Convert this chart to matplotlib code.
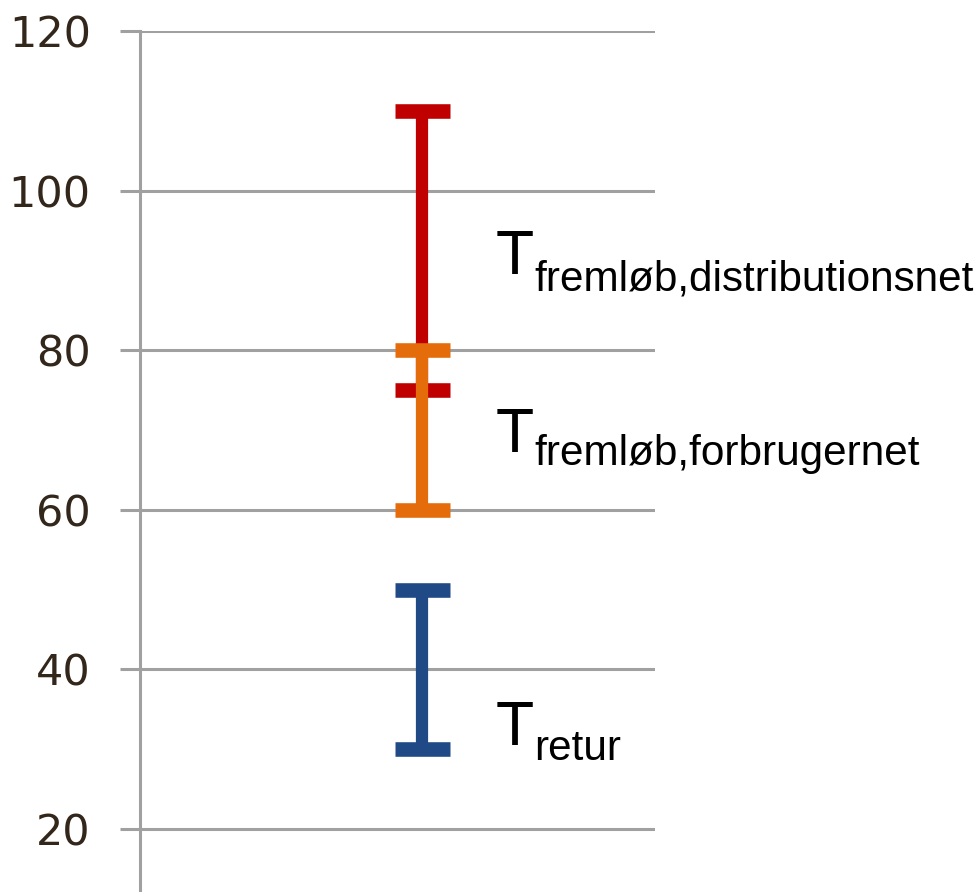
import numpy as np
import matplotlib as mpl
import matplotlib.pyplot as plt
mpl.use('Agg')

# temperature ranges (low, high) per series
names = ["distributionsnet", "forbrugernet", "retur"]
lows = [75, 60, 30]
highs = [110, 80, 50]
colors = ["#C00000", "#E46C0A", "#1F4A86"]

# label subscripts and where the labels sit (y, data units)
subs = ["fremløb,distributionsnet", "fremløb,forbrugernet", "retur"]
label_y = [89.6, 67.2, 30.5]
sub_y = [87.5, 65.6, 28.6]

yticks = [20, 40, 60, 80, 100, 120]

grid_col = "#a0a0a0"
fig = plt.figure(figsize=(9.76, 8.92), dpi=100)
ax = fig.add_axes([140/976, 0, 515/976, 1 - 31/892])

ax.set_xlim(-1, 0.826)
ax.set_ylim(12.1, 120)

for lo, hi, c in zip(lows, highs, colors):
    ax.errorbar([0], [lo], yerr=[[0], [hi - lo]], fmt='none', ecolor=c,
                elinewidth=8.8, capsize=19.8, capthick=10.5, zorder=3)

ax.set_yticks(yticks)
ax.set_yticklabels([str(t) for t in yticks], fontsize=31, color="#33261a",
                   family="DejaVu Sans")
ax.tick_params(axis='y', length=14.4, width=2.2, color=grid_col, pad=21)
ax.set_xticks([])
ax.grid(axis='y', color=grid_col, lw=2.2)
ax.set_axisbelow(True)
for s in ["top", "right", "bottom"]:
    ax.spines[s].set_visible(False)
ax.spines["left"].set_color(grid_col)
ax.spines["left"].set_linewidth(2.2)

tr = ax.get_yaxis_transform()
for sub, y, ys in zip(subs, label_y, sub_y):
    ax.text(0.69, y, "T", transform=tr, fontsize=45, family="Liberation Sans",
            va="baseline", ha="left", clip_on=False)
    ax.text(0.765, ys, sub, transform=tr, fontsize=30.4,
            family="Liberation Sans", va="baseline", ha="left", clip_on=False)

plt.savefig("out.png", dpi=100)
